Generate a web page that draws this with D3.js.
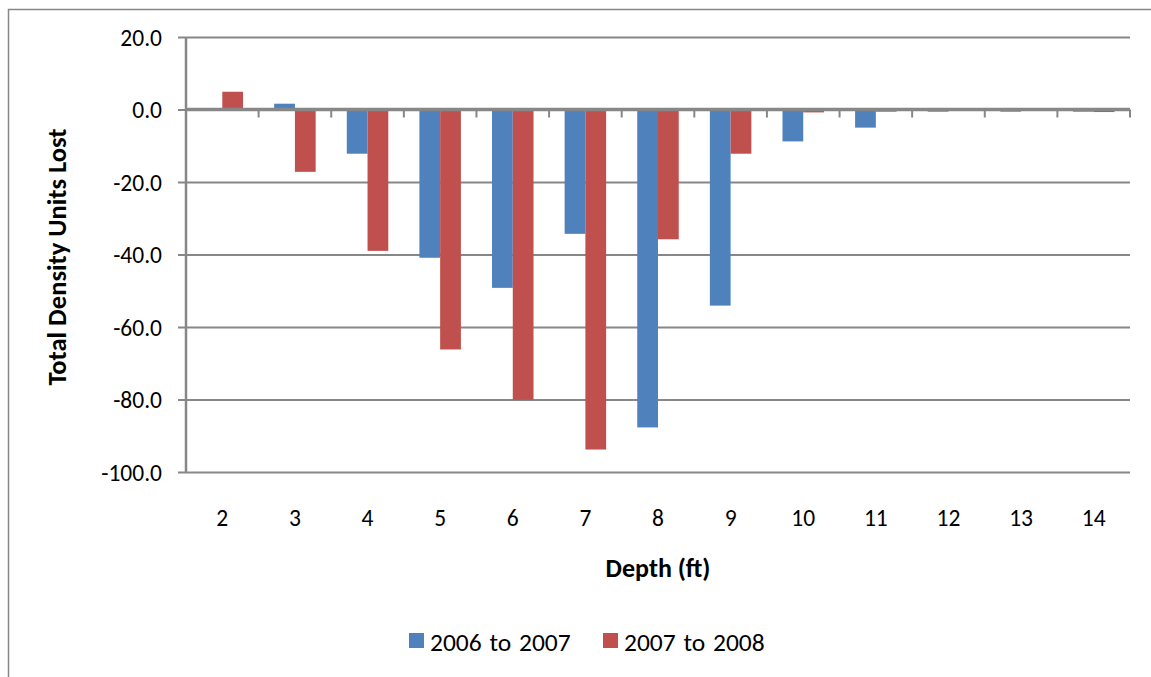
<!DOCTYPE html>
<html>
<head>
<meta charset="utf-8">
<script src="https://cdn.jsdelivr.net/npm/d3@7"></script>
<style>
  html, body { margin: 0; padding: 0; background: #fff; }
  svg { display: block; }
  text { font-family: Carlito, Calibri, Lato, "Open Sans", sans-serif; fill: #000; }
</style>
</head>
<body>
<svg id="chart" width="1151" height="677"></svg>
<script>
// Depth categories (ft)
const depths = ["2", "3", "4", "5", "6", "7", "8", "9", "10", "11", "12", "13", "14"];
// Total density units lost per depth, by period
const loss2006to2007 = [0.0, 1.6, -12.2, -40.9, -49.2, -34.3, -87.7, -54.1, -8.8, -5.0, -0.6, -0.6, -0.6];
const loss2007to2008 = [4.9, -17.2, -39.0, -66.2, -80.1, -93.8, -35.8, -12.2, -0.8, -0.6, 0.0, 0.0, -0.7];
const seriesNames = ["2006 to 2007", "2007 to 2008"];
const seriesColors = ["#4F81BD", "#C0504D"];
const yTicks = [20, 0, -20, -40, -60, -80, -100];

const svg = d3.select("#chart");
const plot = { left: 186, right: 1130, top: 37, bottom: 472 };
const axisGray = "#878787";

// Outer chart frame (left and top edges visible)
svg.append("path")
  .attr("d", "M8.5,677 L8.5,9.5 L1151,9.5")
  .attr("fill", "none").attr("stroke", axisGray).attr("stroke-width", 1.5);

const x = d3.scaleBand().domain(depths).range([plot.left, plot.right]).padding(0);
const xs = d3.scaleBand().domain(seriesNames).range([0, x.bandwidth()])
  .paddingInner(0).paddingOuter(0.75);
const y = d3.scaleLinear().domain([-100, 20]).range([plot.bottom, plot.top]);

// Horizontal gridlines with left tick marks; labels use a plain hyphen for negatives
const yAxis = d3.axisLeft(y).tickValues(yTicks).tickSize(plot.right - plot.left + 8)
  .tickFormat(d => d.toFixed(1));
const gy = svg.append("g")
  .attr("transform", `translate(${plot.right},0)`)
  .call(yAxis);
gy.select(".domain").remove();
gy.selectAll(".tick line").attr("stroke", axisGray).attr("stroke-width", 2);
gy.selectAll(".tick text")
  .attr("x", -(plot.right - plot.left) - 24)
  .attr("dy", "0.36em")
  .style("font-size", "23.5px");

// Bars
const series = [loss2006to2007, loss2007to2008];
series.forEach((vals, si) => {
  svg.append("g").selectAll("rect")
    .data(vals.map((v, i) => ({ cat: depths[i], v })))
    .join("rect")
    .attr("x", d => x(d.cat) + xs(seriesNames[si]))
    .attr("width", xs.bandwidth())
    .attr("y", d => y(Math.max(0, d.v)))
    .attr("height", d => Math.abs(y(d.v) - y(0)))
    .attr("fill", seriesColors[si]);
});

// Left value axis line
svg.append("line")
  .attr("x1", plot.left).attr("x2", plot.left)
  .attr("y1", plot.top).attr("y2", plot.bottom)
  .attr("stroke", axisGray).attr("stroke-width", 2.5);

// Category axis along zero with tick marks between categories
const xAxis = d3.axisBottom(x).tickSize(0).tickFormat("");
const gx = svg.append("g").attr("transform", `translate(0,${y(0)})`).call(xAxis);
gx.select(".domain").attr("stroke", axisGray).attr("stroke-width", 3.5)
  .attr("d", `M${plot.left},0H${plot.right}`);
const bounds = depths.map(d => x(d)).concat([x(depths[depths.length - 1]) + x.bandwidth()]);
gx.selectAll("line.sep").data(bounds.slice(1)).join("line")
  .attr("class", "sep")
  .attr("x1", d => d).attr("x2", d => d)
  .attr("y1", 0).attr("y2", 8)
  .attr("stroke", axisGray).attr("stroke-width", 2);

// Category labels under the plot
svg.append("g").selectAll("text")
  .data(depths).join("text")
  .attr("x", d => x(d) + x.bandwidth() / 2)
  .attr("y", 526)
  .attr("text-anchor", "middle")
  .style("font-size", "23.5px")
  .text(d => d);

// Axis titles
svg.append("text")
  .attr("x", 658).attr("y", 577)
  .attr("text-anchor", "middle")
  .style("font-size", "26px").style("font-weight", "bold")
  .text("Depth (ft)");
svg.append("text")
  .attr("transform", "translate(66,257) rotate(-90)")
  .attr("text-anchor", "middle")
  .style("font-size", "26.5px").style("font-weight", "bold")
  .text("Total Density Units Lost");

// Legend
const legend = [
  { name: seriesNames[0], color: seriesColors[0], x: 409 },
  { name: seriesNames[1], color: seriesColors[1], x: 603 }
];
const lg = svg.append("g");
lg.selectAll("rect").data(legend).join("rect")
  .attr("x", d => d.x).attr("y", 633)
  .attr("width", 15).attr("height", 15)
  .attr("fill", d => d.color);
lg.selectAll("text").data(legend).join("text")
  .attr("x", d => d.x + 21).attr("y", 651)
  .style("font-size", "25.5px").style("word-spacing", "2px")
  .text(d => d.name);
</script>
</body>
</html>
